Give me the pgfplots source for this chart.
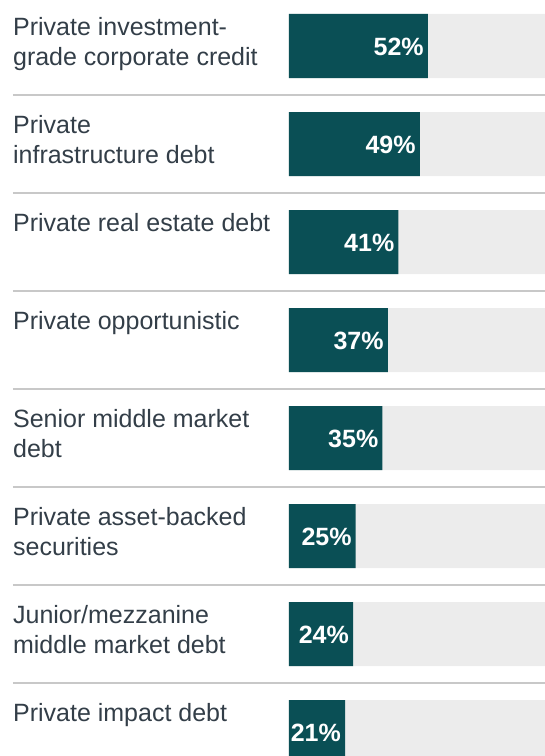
\documentclass[border=0pt]{standalone}
\usepackage{pgfplots}
\pgfplotsset{compat=1.18}
\usepackage{fontspec}
\setmainfont{Liberation Sans}
\definecolor{barteal}{HTML}{0A4F55}
\definecolor{bggray}{HTML}{ECECEC}
\definecolor{sepgray}{HTML}{C8C8C8}
\definecolor{txt}{HTML}{333E48}
\newcommand{\lbl}{\fontsize{25bp}{30bp}\selectfont}
\begin{document}
\begin{tikzpicture}
\begin{axis}[name=ax, width=256bp, height=756bp, scale only axis,
  xmin=0, xmax=95.88, ymin=-0.4694, ymax=7.2449, y dir=reverse,
  hide axis, clip=false, /pgf/number format/assume math mode=true]
\addplot[xbar, bar width=0.6531, bar shift=0pt, fill=bggray, draw=none]
  coordinates {(100,0)(100,1)(100,2)(100,3)(100,4)(100,5)(100,6)(100,7)};
\addplot[xbar, bar width=0.6531, bar shift=0pt, fill=barteal, draw=none,
  point meta=x,
  nodes near coords={\pgfmathprintnumber[assume math mode=true]{\pgfplotspointmeta}\%},
  every node near coord/.style={anchor=east, xshift=-4bp, yshift=-1bp, inner sep=0pt, text=white,
    font=\fontsize{25bp}{30bp}\selectfont\bfseries}]
  coordinates {(52,0)(49,1)(41,2)(37,3)(35,4)(25,5)(24,6)(21,7)};
% separators
\draw[sepgray, line width=1.2bp] (axis cs:-103.4,0.5) -- (axis cs:100,0.5);
\draw[sepgray, line width=1.2bp] (axis cs:-103.4,1.5) -- (axis cs:100,1.5);
\draw[sepgray, line width=1.2bp] (axis cs:-103.4,2.5) -- (axis cs:100,2.5);
\draw[sepgray, line width=1.2bp] (axis cs:-103.4,3.5) -- (axis cs:100,3.5);
\draw[sepgray, line width=1.2bp] (axis cs:-103.4,4.5) -- (axis cs:100,4.5);
\draw[sepgray, line width=1.2bp] (axis cs:-103.4,5.5) -- (axis cs:100,5.5);
\draw[sepgray, line width=1.2bp] (axis cs:-103.4,6.5) -- (axis cs:100,6.5);
% labels
\tikzset{lab/.style={anchor=base west, inner sep=0pt, text=txt, font=\lbl}}
\node[lab] at (axis cs:-103.4,-0.1122) {Private investment-};
\node[lab] at (axis cs:-103.4,0.1939) {grade corporate credit};
\node[lab] at (axis cs:-103.4,0.8878) {Private};
\node[lab] at (axis cs:-103.4,1.1939) {infrastructure debt};
\node[lab] at (axis cs:-103.4,1.8878) {Private real estate debt};
\node[lab] at (axis cs:-103.4,2.8878) {Private opportunistic};
\node[lab] at (axis cs:-103.4,3.8878) {Senior middle market};
\node[lab] at (axis cs:-103.4,4.1939) {debt};
\node[lab] at (axis cs:-103.4,4.8878) {Private asset-backed};
\node[lab] at (axis cs:-103.4,5.1939) {securities};
\node[lab] at (axis cs:-103.4,5.8878) {Junior/mezzanine};
\node[lab] at (axis cs:-103.4,6.1939) {middle market debt};
\node[lab] at (axis cs:-103.4,6.8878) {Private impact debt};
\end{axis}
\pgfresetboundingbox
\path[use as bounding box] ([xshift=-289bp]ax.south west) rectangle (ax.north east);
\end{tikzpicture}
\end{document}
